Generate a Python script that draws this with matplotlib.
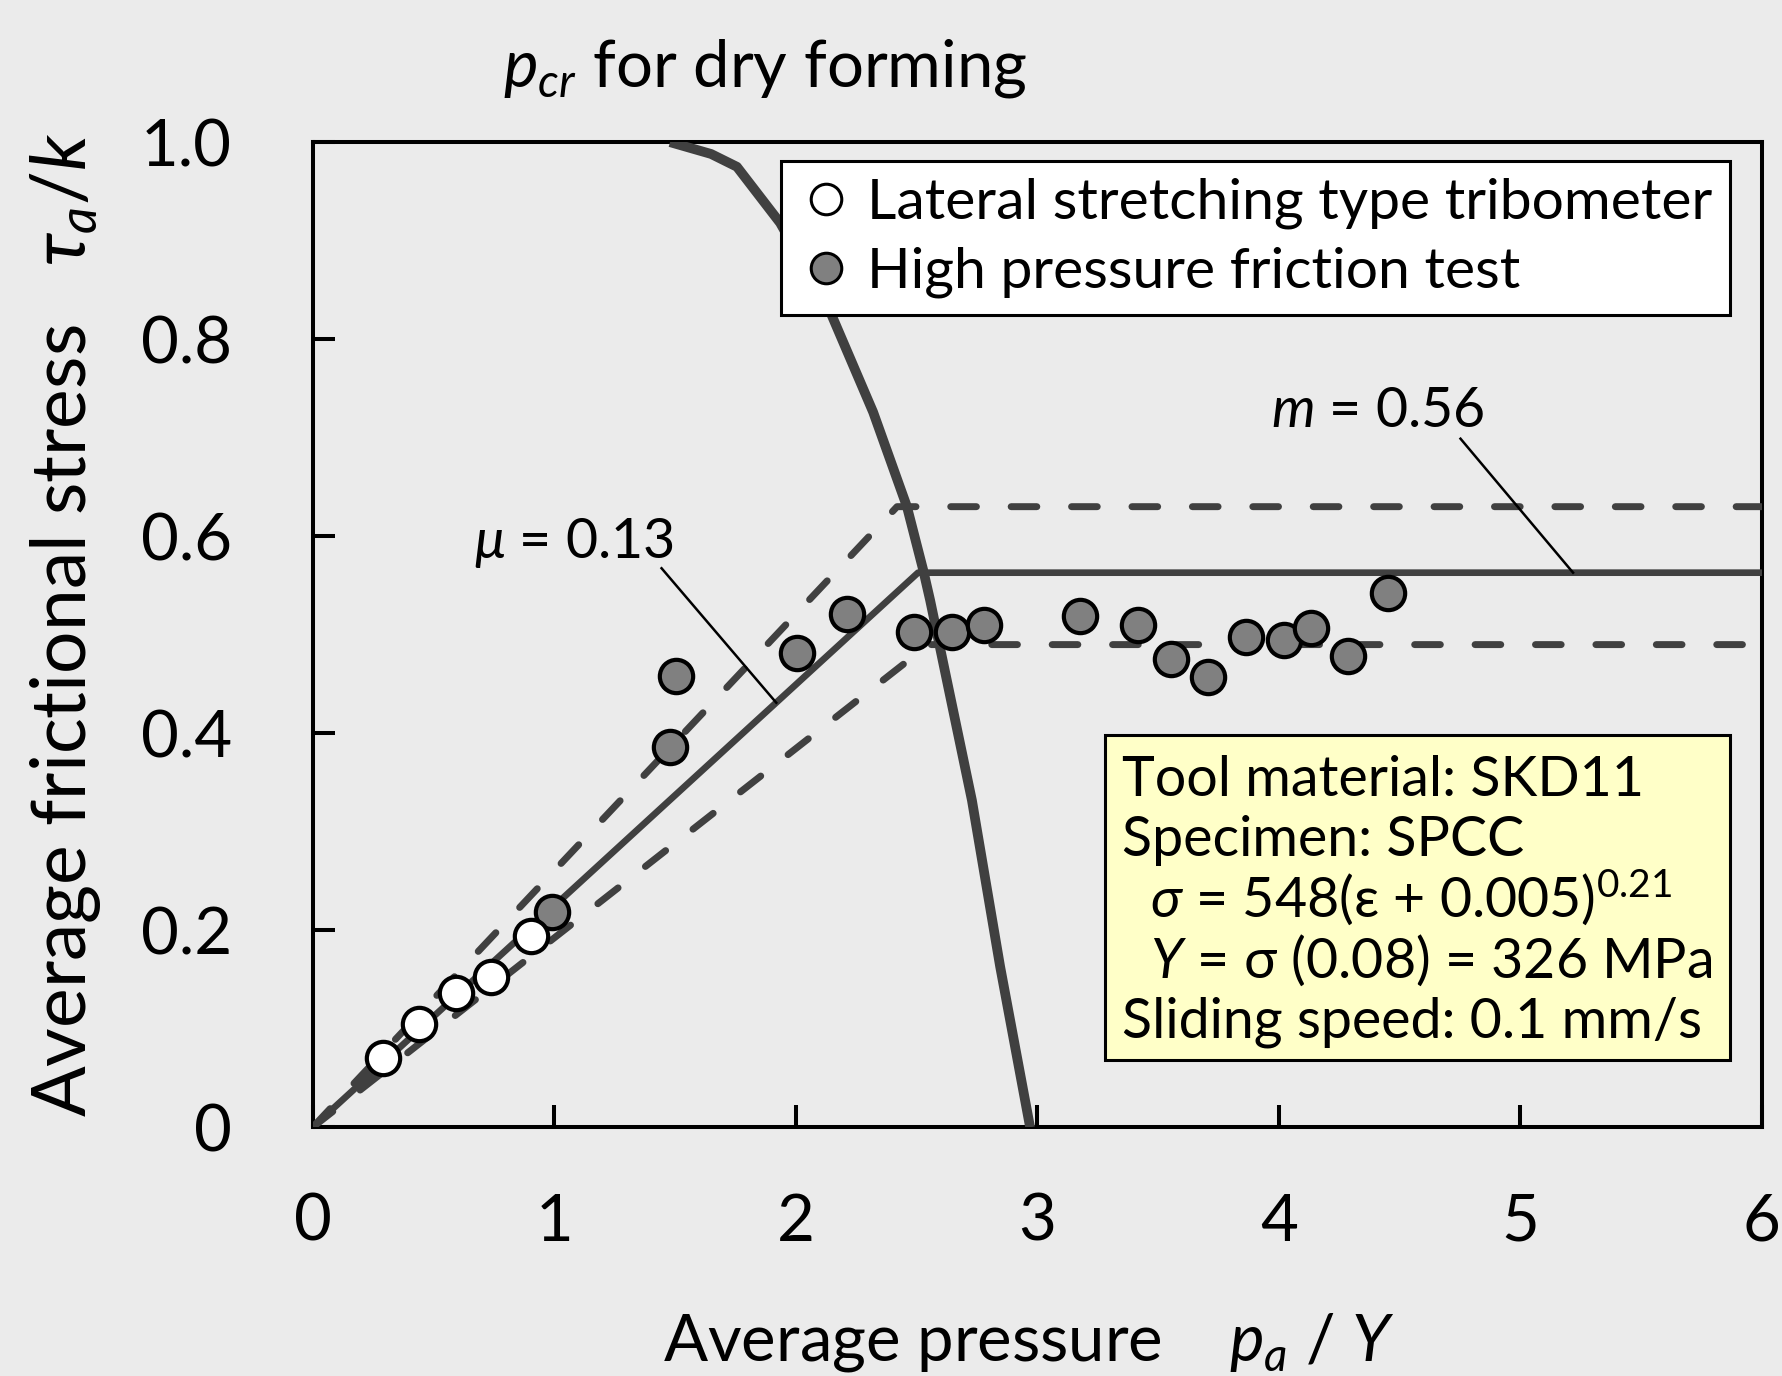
import matplotlib
matplotlib.use("Agg")
import matplotlib.pyplot as plt
from matplotlib.lines import Line2D
from matplotlib.patches import Rectangle

plt.rcParams['font.family'] = ['Lato', 'DejaVu Sans']
plt.rcParams['mathtext.fontset'] = 'custom'
plt.rcParams['mathtext.rm'] = 'Lato'
plt.rcParams['mathtext.it'] = 'Lato:italic'
plt.rcParams['mathtext.fallback'] = 'stixsans'

# data
lateral_x = [0.29, 0.442, 0.593, 0.738, 0.905]
lateral_y = [0.070, 0.105, 0.136, 0.153, 0.194]

hp_x = [0.993, 1.482, 1.506, 2.005, 2.212, 2.489, 2.649, 2.781, 3.176, 3.416,
        3.553, 3.708, 3.864, 4.024, 4.136, 4.287, 4.452]
hp_y = [0.219, 0.386, 0.458, 0.481, 0.521, 0.503, 0.503, 0.510, 0.519, 0.510,
        0.475, 0.457, 0.498, 0.495, 0.507, 0.478, 0.542]

# critical pressure curve (dry forming)
pcr_x = [1.48, 1.65, 1.757, 1.936, 2.143, 2.321, 2.461, 2.528, 2.557, 2.73, 2.847, 2.971]
pcr_y = [1.0, 0.988, 0.975, 0.918, 0.828, 0.726, 0.630, 0.566, 0.535, 0.332, 0.163, 0.0]

# friction model lines
fit_x = [0, 2.507, 6]
fit_y = [0, 0.563, 0.563]
upper_x = [0, 2.42, 6]
upper_y = [0, 0.63, 0.63]
lower_x = [0, 2.55, 6]
lower_y = [0, 0.49, 0.49]

x_ticks = [0, 1, 2, 3, 4, 5, 6]
y_ticks = [0, 0.2, 0.4, 0.6, 0.8, 1.0]
y_tick_labels = ["0", "0.2", "0.4", "0.6", "0.8", "1.0"]

legend_labels = ["Lateral stretching type tribometer", "High pressure friction test"]

info_lines = [
    "Tool material: SKD11",
    "Specimen: SPCC",
    r"  $\sigma$ = 548(ε + 0.005)$^{0.21}$",
    r"  $Y$ = σ (0.08) = 326 MPa",
    "Sliding speed: 0.1 mm/s",
]

BG = "#ebebeb"
LINE = "#404040"
FS = 40       # legend, box, annotations
FS_BIG = 47   # ticks, title, x label

fig = plt.figure(figsize=(17.82, 13.76), dpi=100, facecolor=BG)
ax = fig.add_axes([0.1754, 0.1807, 0.8132, 0.7160])
ax.set_facecolor(BG)

ax.plot(pcr_x, pcr_y, color=LINE, lw=7, solid_capstyle='butt',
        solid_joinstyle='round', zorder=3)
ax.plot(fit_x, fit_y, color=LINE, lw=4.8, zorder=3)
for xs, ys in [(upper_x, upper_y), (lower_x, lower_y)]:
    ax.plot(xs, ys, color=LINE, lw=5, dashes=(3.7, 5.0),
            dash_capstyle='round', zorder=3)

ax.plot(hp_x, hp_y, 'o', ms=24, mfc="#808080", mec='black', mew=3, zorder=5)
ax.plot(lateral_x, lateral_y, 'o', ms=24, mfc="white", mec='black', mew=3, zorder=5)

# leader lines and labels
ax.plot([1.445, 1.92], [0.5675, 0.431], color='black', lw=1.8, zorder=4)
ax.text(1.082, 0.593, r"$\mu$ = 0.13", fontsize=FS, ha='center', va='center')
ax.plot([4.753, 5.219], [0.699, 0.563], color='black', lw=1.8, zorder=4)
ax.text(4.409, 0.7266, r"$m$ = 0.56", fontsize=FS, ha='center', va='center')

ax.set_xlim(0, 6)
ax.set_ylim(0, 1.0)
ax.set_xticks(x_ticks)
ax.set_xticklabels([str(v) for v in x_ticks])
ax.set_yticks(y_ticks)
ax.set_yticklabels(y_tick_labels)
ax.tick_params(direction='in', length=16, width=2.9, labelsize=FS_BIG,
               top=False, right=False)
ax.tick_params(axis='x', pad=47)
ax.tick_params(axis='y', pad=58)
for sp in ax.spines.values():
    sp.set_linewidth(2.9)
    sp.set_color('black')

# legend
handles = [
    Line2D([], [], marker='o', ls='none', ms=22, mfc='white', mec='black', mew=2.2),
    Line2D([], [], marker='o', ls='none', ms=22, mfc='#808080', mec='black', mew=2.2),
]
leg = ax.legend(handles, legend_labels,
                loc='upper left', bbox_to_anchor=(0.323, 0.981), borderaxespad=0,
                fontsize=41, frameon=True, fancybox=False, framealpha=1,
                edgecolor='black', facecolor='white', handletextpad=0.22,
                handlelength=1.0, borderpad=0.3, labelspacing=0.3)
leg.get_frame().set_linewidth(2.2)
leg.set_zorder(6)

# info box
box = Rectangle((0.547, 0.0684), 0.4313, 0.3298, transform=ax.transAxes,
                facecolor='#ffffc8', edgecolor='black', lw=2.2, zorder=6)
ax.add_patch(box)
for i, line in enumerate(info_lines):
    ax.text(0.5586, 0.3365 - i * 0.0614, line, transform=ax.transAxes,
            fontsize=FS, ha='left', va='baseline', zorder=7)

fig.text(0.2823, 0.950, r"$p_{cr}$ for dry forming", fontsize=FS_BIG,
         ha='left', va='center')
fig.text(0.372, 0.024, r"Average pressure    $p_a$ / $Y$", fontsize=FS_BIG,
         ha='left', va='center')
fig.text(0.037, 0.546, r"Average frictional stress   $\tau_a/k$", fontsize=54,
         rotation=90, ha='center', va='center')

fig.savefig("out.png", dpi=100, facecolor=BG)
